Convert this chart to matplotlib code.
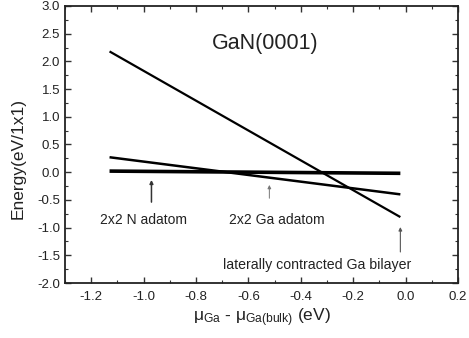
import matplotlib
matplotlib.use("Agg")
import matplotlib.pyplot as plt
from matplotlib.ticker import MultipleLocator
import numpy as np

plt.rcParams['font.family'] = ['Liberation Sans', 'DejaVu Sans']
plt.rcParams['mathtext.fontset'] = 'custom'
plt.rcParams['mathtext.rm'] = 'Liberation Sans'
plt.rcParams['mathtext.it'] = 'Liberation Sans'

# Data (chemical potential range, eV) and surface energies (eV/1x1)
mu_range = [-1.13, -0.02]
bilayer = [2.18, -0.81]
ga_adatom = [0.27, -0.40]
n_adatom = [0.02, -0.02]

ann_labels = ["2x2 N adatom", "2x2 Ga adatom", "laterally contracted Ga bilayer"]
ann_x = [-0.97, -0.52, -0.02]
ann_head = [-0.14, -0.23, -0.99]
ann_tail = [-0.54, -0.47, -1.44]

xticks = [-1.2, -1.0, -0.8, -0.6, -0.4, -0.2, 0.0, 0.2]
yticks = [-2.0, -1.5, -1.0, -0.5, 0.0, 0.5, 1.0, 1.5, 2.0, 2.5, 3.0]

fig = plt.figure(figsize=(4.69, 3.38), dpi=100)
ax = fig.add_axes([65/469, 1-283/338, (458-65)/469, (283-6)/338])

ax.plot(mu_range, bilayer, color='black', lw=1.6, solid_capstyle='butt')
ax.plot(mu_range, ga_adatom, color='black', lw=1.8, solid_capstyle='butt')
ax.plot(mu_range, n_adatom, color='black', lw=2.6, solid_capstyle='butt')

tc = '#222222'
arrow_colors = ['#333333', '#777777', '#555555']
arrow_lw = [1.1, 0.7, 0.8]
for xa, yh, yt, c, w in zip(ann_x, ann_head, ann_tail, arrow_colors, arrow_lw):
    ax.annotate("", xy=(xa, yh), xytext=(xa, yt),
                arrowprops=dict(arrowstyle='-|>', color=c, lw=w, mutation_scale=5,
                                shrinkA=0, shrinkB=0))
ax.text(-1.0, -0.87, ann_labels[0], ha='center', va='center', fontsize=10, color=tc)
ax.text(-0.49, -0.87, ann_labels[1], ha='center', va='center', fontsize=10, color=tc)
ax.text(0.02, -1.68, ann_labels[2], ha='right', va='center', fontsize=10.2, color=tc)

ax.text(-0.535, 2.33, "GaN(0001)", ha='center', va='center', fontsize=15.5, color=tc)

ax.set_xlim(-1.3, 0.2)
ax.set_ylim(-2.0, 3.0)
ax.set_xticks(xticks)
ax.set_yticks(yticks)
ax.xaxis.set_minor_locator(MultipleLocator(0.1))
ax.yaxis.set_minor_locator(MultipleLocator(0.25))
ax.set_xticklabels([f"{v:.1f}" for v in xticks])
ax.set_yticklabels([f"{v:.1f}" for v in yticks])
ax.tick_params(which='both', direction='in', top=True, right=True, labelsize=9.5,
               labelcolor=tc, color='#333333')
ax.tick_params(axis='x', which='major', pad=6)
ax.tick_params(which='major', length=4, width=1)
ax.tick_params(which='minor', length=2, width=0.8)
for s in ax.spines.values():
    s.set_linewidth(1.3)
    s.set_color('#222222')

ax.set_ylabel("Energy(eV/1x1)", fontsize=12.5, color=tc)
ax.set_xlabel(r"$\mu_{\rm Ga}$ - $\mu_{\rm Ga(bulk)}$ (eV)", fontsize=12.5, color=tc)
ax.yaxis.set_label_coords(-0.10, 0.45)
ax.xaxis.set_label_coords(0.5, -0.085)

fig.savefig("out.png", dpi=100)
